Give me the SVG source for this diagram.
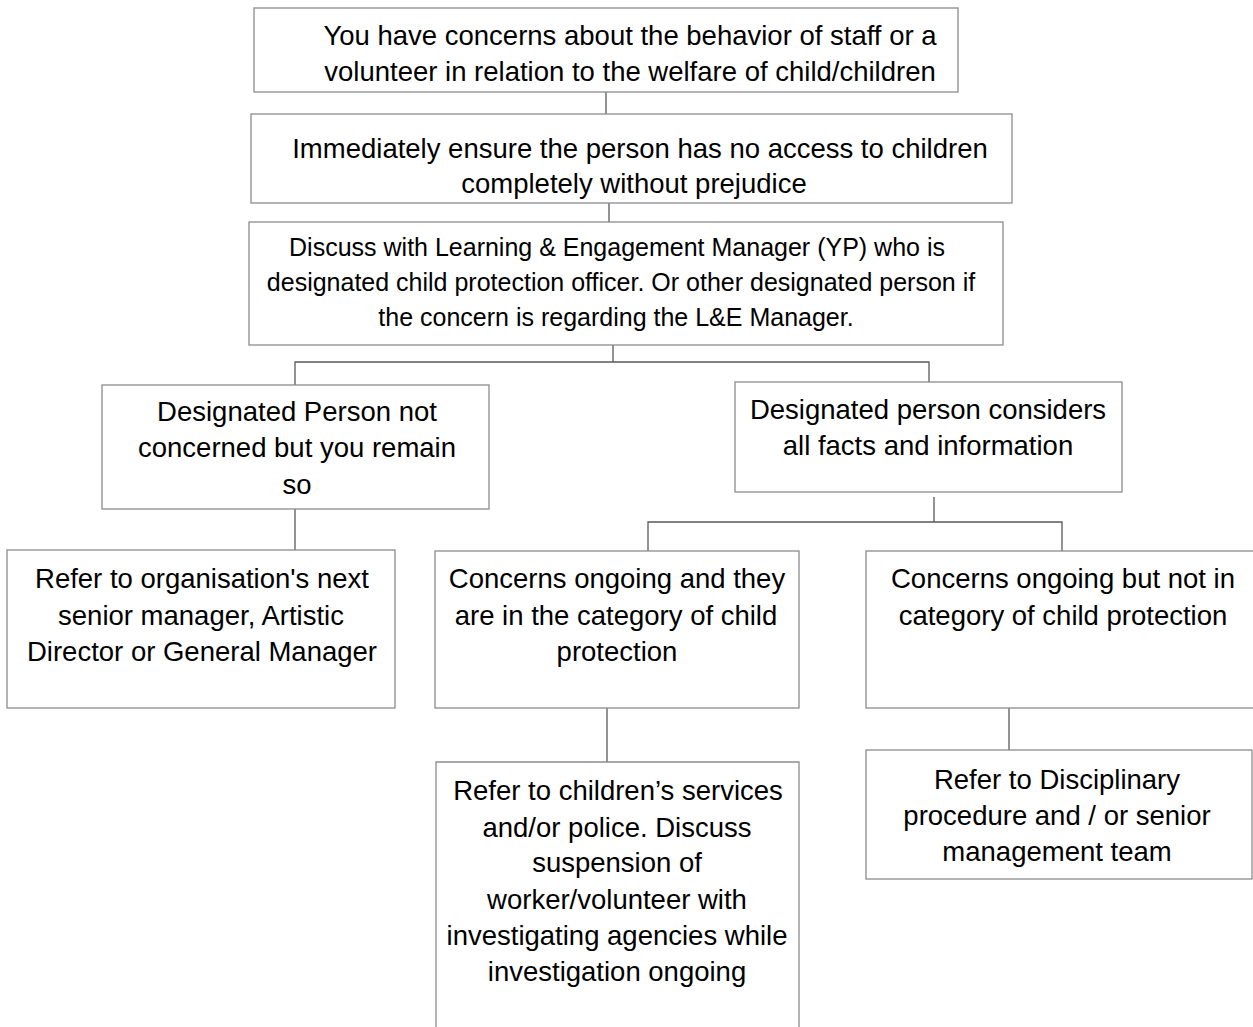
<svg xmlns="http://www.w3.org/2000/svg" width="1253" height="1027" viewBox="0 0 1253 1027">
<style>
.box{fill:#fff;stroke:#8c8c8c;stroke-width:1.3}
.c{fill:none;stroke:#595959;stroke-width:1.3}
text{font-family:"Liberation Sans",Arial,sans-serif;fill:#000;text-anchor:middle}
.t{font-size:27.5px}
.s{font-size:25px}
</style>
<rect width="1253" height="1027" fill="#fff"/>
<g id="connectors">
<path class="c" d="M606 92V114"/>
<path class="c" d="M609 203V222"/>
<path class="c" d="M613 345V362M295 385V362H929V382"/>
<path class="c" d="M934 497V522M648 551V522H1062V554"/>
<path class="c" d="M295 509V550"/>
<path class="c" d="M607 708V762"/>
<path class="c" d="M1009 708V750"/>
</g>
<g id="n1"><rect class="box" x="254" y="8" width="704" height="84"/>
<text class="t" x="630" y="45">You have concerns about the behavior of staff or a</text>
<text class="t" x="630" y="81">volunteer in relation to the welfare of child/children</text></g>
<g id="n2"><rect class="box" x="251" y="114" width="761" height="89"/>
<text class="t" x="640" y="158">Immediately ensure the person has no access to children</text>
<text class="t" x="634" y="193">completely without prejudice</text></g>
<g id="n3"><rect class="box" x="249" y="222" width="754" height="123"/>
<text class="s" x="617" y="256">Discuss with Learning &amp; Engagement Manager (YP) who is</text>
<text class="s" x="621" y="291">designated child protection officer. Or other designated person if</text>
<text class="s" x="616" y="326">the concern is regarding the L&amp;E Manager.</text></g>
<g id="n4"><rect class="box" x="102" y="385" width="387" height="124"/>
<text class="t" x="297" y="421">Designated Person not</text>
<text class="t" x="297" y="457">concerned but you remain</text>
<text class="t" x="297" y="494">so</text></g>
<g id="n5"><rect class="box" x="735" y="382" width="387" height="110"/>
<text class="t" x="928" y="419">Designated person considers</text>
<text class="t" x="928" y="455">all facts and information</text></g>
<g id="n6"><rect class="box" x="7" y="550" width="388" height="158"/>
<text class="t" x="202" y="588">Refer to organisation's next</text>
<text class="t" x="201" y="625">senior manager, Artistic</text>
<text class="t" x="202" y="661">Director or General Manager</text></g>
<g id="n7"><rect class="box" x="435" y="551" width="364" height="157"/>
<text class="t" x="617" y="588">Concerns ongoing and they</text>
<text class="t" x="616" y="625">are in the category of child</text>
<text class="t" x="617" y="661">protection</text></g>
<g id="n8"><rect class="box" x="866" y="551" width="388" height="157"/>
<text class="t" x="1063" y="588">Concerns ongoing but not in</text>
<text class="t" x="1063" y="625">category of child protection</text></g>
<g id="n9"><path class="box" d="M436 1027V762H799V1027"/>
<text class="t" x="618" y="800">Refer to children’s services</text>
<text class="t" x="617" y="837">and/or police. Discuss</text>
<text class="t" x="617" y="872">suspension of</text>
<text class="t" x="617" y="909">worker/volunteer with</text>
<text class="t" x="617" y="945">investigating agencies while</text>
<text class="t" x="617" y="981">investigation ongoing</text></g>
<g id="n10"><rect class="box" x="866" y="750" width="386" height="129"/>
<text class="t" x="1057" y="789">Refer to Disciplinary</text>
<text class="t" x="1057" y="825">procedure and / or senior</text>
<text class="t" x="1057" y="861">management team</text></g>
</svg>
